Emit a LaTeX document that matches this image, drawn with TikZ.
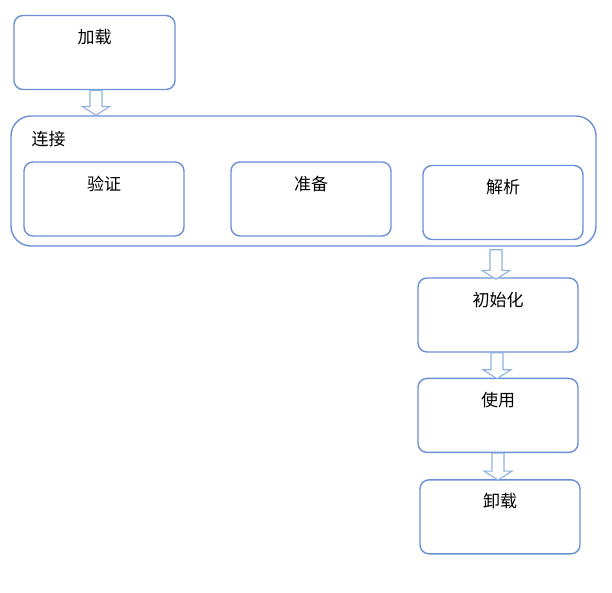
\documentclass[tikz,border=0pt]{standalone}
\usepackage{fontspec}
\setmainfont{Noto Sans CJK SC}
\usetikzlibrary{calc,positioning}
\definecolor{boxblue}{HTML}{6A8FD6}
\definecolor{arrowblue}{HTML}{8DB3E2}
\tikzset{box/.style={draw=boxblue,rounded corners=9pt,line width=1.4pt,minimum width=160pt,inner ysep=0pt,text height=28pt,text depth=46pt,font=\fontsize{17}{19}\selectfont},group/.style={draw=boxblue,rounded corners=20pt,line width=1.4pt,minimum width=585pt,minimum height=130pt},hollow/.style={draw=arrowblue,fill=white,line width=1.1pt,to path={let \p1=(\tikztostart),\p2=(\tikztotarget) in (\x1-6pt,\y1) -- (\x1-6pt,\y2+9pt) -- (\x1-14pt,\y2+9pt) -- (\x1,\y2) -- (\x1+14pt,\y2+9pt) -- (\x1+6pt,\y2+9pt) -- (\x1+6pt,\y1) -- cycle}}}

\begin{document}
\begin{tikzpicture}[x=1pt,y=1pt,node distance=25pt]
\useasboundingbox (0,0) rectangle (612,-592);
\node[box,minimum width=161pt] (load) at (94.5,-52.5) {加载};
\node[group,label={[anchor=north west,inner sep=0pt,xshift=21pt,yshift=-16pt,font=\fontsize{17}{19}\selectfont]north west:连接}] (link) at (303.5,-181) {};
\node[box] (verify) at (104,-199) {验证};
\node[box] (prepare) at (311,-199) {准备};
\node[box] (resolve) at (503,-202.5) {解析};
\node[box] (init) at (498,-315) {初始化};
\node[box,below=25pt of init] (use) {使用};
\node[box,below=26pt of use,xshift=2pt] (unload) {卸载};
\draw[hollow] ($(load.south)+(1.5,0)$) to ($(load.south |- link.north)+(1.5,0)$);
\draw[hollow] ($(init.north |- link.south)+(-2,-3)$) to ($(init.north)+(-2,-2)$);
\draw[hollow] ($(init.south)+(-1,0)$) to ($(use.north)+(-1,-1)$);
\draw[hollow] ($(use.south)+(0,0)$) to ($(unload.north)+(0,-1)$);
\end{tikzpicture}
\end{document}
